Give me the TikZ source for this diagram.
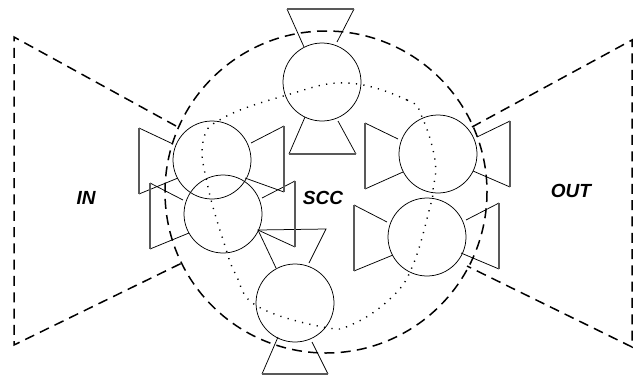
\documentclass[tikz,border=0pt]{standalone}
\usepackage{fontspec}
\setmainfont{Liberation Sans}
\begin{document}
\begin{tikzpicture}[x=1pt,y=-1pt,
  thin line/.style={line width=0.75pt,black},
  flat edge/.style={line width=1.3pt,black!65},
  bigdash/.style={line width=1.5pt,dash pattern=on 10pt off 6.3pt},
  dots/.style={line width=1.4pt,dash pattern=on 1.2pt off 6.3pt},
  label/.style={font=\bfseries\itshape\fontsize{19pt}{22pt}\selectfont,inner sep=0pt}]
\useasboundingbox (0,0) rectangle (636,375);
\fill[white] (0,0) rectangle (636,375);
% big dashed boundaries
\draw[bigdash] (326,192) circle (161);
\draw[bigdash] (176,126) -- (14,37) -- (14,345) -- (182,263);
\draw[bigdash] (472,127) -- (632,40) -- (632,347) -- (467,266);
% dotted ring
\draw[dots] plot[smooth cycle,tension=0.7] coordinates {(347,83) (407,100) (422,117) (435,160) (433,190) (430,207) (413,265) (392,297) (353,324) (323,327) (257,306) (236,275) (225,246) (208,187) (203,142) (223,118) (287,95)};
% circles
\foreach \c in {(322,82),(212,160),(223,214),(438,154),(427,237),(295,303)}
  \draw[thin line] \c circle (39);
% funnels: slanted sides
\draw[thin line] (304,47) -- (287,9) (354,9) -- (337,42);
\draw[thin line] (305,117) -- (289,154) (356,154) -- (338,121);
\draw[thin line] (173,144) -- (139,128) (139,194) -- (178,178);
\draw[thin line] (251,143) -- (284,126) (284,192) -- (245,178);
\draw[thin line] (183,200) -- (150,183) (150,249) -- (189,233);
\draw[thin line] (262,198) -- (295,181) (295,247) -- (258,230);
\draw[thin line] (398,139) -- (365,123) (365,189) -- (403,172);
\draw[thin line] (477,137) -- (510,121) (510,187) -- (473,171);
\draw[thin line] (387,222) -- (354,205) (354,271) -- (393,255);
\draw[thin line] (466,220) -- (499,203) (499,269) -- (461,253);
\draw[thin line] (276,268) -- (258,230) -- (326,229) -- (309,263);
\draw[thin line] (278,337) -- (262,374) (328,374) -- (312,342);
% funnels: flat ends
\draw[flat edge] (287,9) -- (354,9) (289,154) -- (356,154) (262,374) -- (328,374)
  (139,128) -- (139,194) (284,126) -- (284,192) (150,183) -- (150,249) (295,181) -- (295,247)
  (365,123) -- (365,189) (510,121) -- (510,187) (354,205) -- (354,271) (499,203) -- (499,269);
% labels
\node[label] (in) at (86,198) {IN};
\node[label] (scc) at (323,198) {SCC};
\node[label] (out) at (571,191) {OUT};
\end{tikzpicture}
\end{document}
